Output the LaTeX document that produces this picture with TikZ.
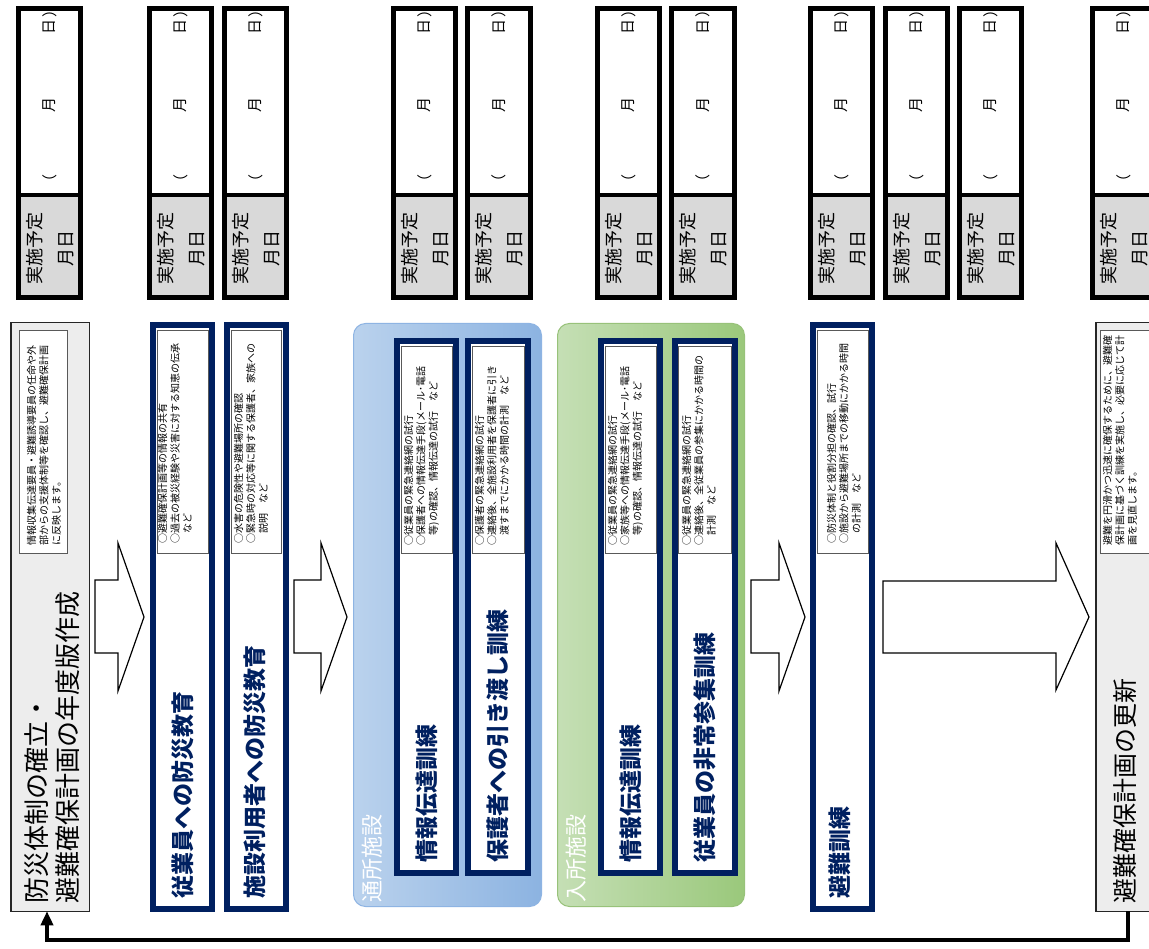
\documentclass[tikz,border=0pt]{standalone}
\usepackage{fontspec}
\newfontfamily\jp{Noto Sans CJK JP}
\usetikzlibrary{arrows.meta}
\definecolor{navy}{HTML}{002060}
\definecolor{lgrey}{HTML}{D9D9D9}
\definecolor{pgrey}{HTML}{EDEDED}
\definecolor{bluel}{HTML}{BAD2ED}
\definecolor{bluer}{HTML}{8CB3E1}
\definecolor{blueb}{HTML}{8EB4E3}
\definecolor{greenl}{HTML}{C5DFB5}
\definecolor{greenr}{HTML}{9AC87B}
\definecolor{greenb}{HTML}{98C27A}
\begin{document}
\begin{tikzpicture}[x=1pt,y=-1pt,
  rt/.style={rotate=90, inner sep=0pt, outer sep=0pt},
  ttl/.style={rt, anchor=west, text=navy, font=\jp\fontsize{23}{27}\selectfont\bfseries},
  bigttl/.style={rt, anchor=west, align=left, font=\jp\fontsize{26}{31}\selectfont},
  notetxt/.style={rt, anchor=north west, align=left, font=\jp\fontsize{10}{12.3}\selectfont},
  grplabel/.style={rt, anchor=west, text=white, font=\jp\fontsize{22}{26}\selectfont},
  datech/.style={rt, font=\jp\fontsize{15}{18}\selectfont},
  datelab/.style={rt, anchor=north west, align=left, font=\jp\fontsize{18}{31}\selectfont},
  navybox/.style={draw=navy, line width=6pt, fill=white, inner sep=0pt, outer sep=0pt},
  notebox/.style={draw=black!65, line width=0.8pt, fill=white, inner sep=0pt, outer sep=0pt},
  greybox/.style={draw=black!85, line width=1.5pt, fill=pgrey, inner sep=0pt, outer sep=0pt},
  grp/.style={line width=1pt, rounded corners=12pt, inner sep=0pt, outer sep=0pt},
  blockarrow/.style={draw=black, line width=1.2pt, fill=white, line join=miter},
  conn/.style={line width=4pt, -{Triangle[length=14pt,width=12pt]}}
]
\clip (0,0) rectangle (1149,949);
\fill[white] (0,0) rectangle (1149,949);

% date boxes
\foreach \i/\xl/\xr in {1/16/83, 2/147/214, 3/222/289, 4/391/458, 5/465/533, 6/595/662, 7/669/737, 8/808/875, 9/883/950, 10/957/1024, 11/1090/1157}{
  \fill[lgrey] (\xl+4,195) rectangle (\xr-4,296);
  \draw[line width=5pt] (\xl+2.5,8.5) rectangle (\xr-2.5,297.5);
  \draw[line width=4pt] (\xl+2.5,195) -- (\xr-2.5,195);
  \node[datech] (d\i a) at ({(\xl+\xr)/2},182) {（};
  \node[datech] (d\i m) at ({(\xl+\xr)/2},105) {月};
  \node[datech] (d\i d) at ({(\xl+\xr)/2},27) {日};
  \node[datech] (d\i b) at ({(\xl+\xr)/2},10) {）};
  \node[datelab] (d\i l) at (\xl+10,285) {実施予定\\　月日};
}

% left box
\node[greybox, minimum width=78.5, minimum height=588.5] (plan) at (50,617) {};
\node[notebox, minimum width=48, minimum height=223] (plann) at (43,441.5) {};
\node[notetxt] (plant) at (27,545) {情報収集伝達要員・避難誘導要員の任命や外\\部からの支援体制等を確認し、避難確保計画\\に反映します。};
\node[bigttl] (plantitle) at (52.5,903) {防災体制の確立・\\避難確保計画の年度版作成};

% education boxes
\node[navybox, minimum width=59, minimum height=584] (b1) at (182.5,617) {};
\node[notebox, minimum width=51, minimum height=223] (b1n) at (182.5,441.5) {};
\node[notetxt] (b1t) at (158,543) {○避難確保計画等の情報の共有\\○過去の被災経験や災害に対する知恵の伝承\\　など};
\node[ttl] (b1title) at (182.5,898) {従業員への防災教育};

\node[navybox, minimum width=59, minimum height=584] (b2) at (256.5,617) {};
\node[notebox, minimum width=50, minimum height=223] (b2n) at (256,441.5) {};
\node[notetxt] (b2t) at (234,543) {○水害の危険性や避難場所の確認\\○緊急時の対応等に関する保護者、家族への\\　説明　など};
\node[ttl] (b2title) at (255,898) {施設利用者への防災教育};

% day-care group
\node[grp, draw=blueb, left color=bluel, right color=bluer, minimum width=188, minimum height=583] (g1) at (447.5,615) {};
\node[grplabel] (g1l) at (372,902) {通所施設};
\node[navybox, minimum width=59, minimum height=532] (g1a) at (426.5,607) {};
\node[notebox, minimum width=51, minimum height=207] (g1an) at (426.5,449.5) {};
\node[notetxt] (g1at) at (404,545) {○従業員の緊急連絡網の試行\\○保護者への情報伝達手段(メール･電話\\　等)の確認、情報伝達の試行　など};
\node[ttl] (g1atitle) at (426.5,862) {情報伝達訓練};
\node[navybox, minimum width=60, minimum height=532] (g1b) at (498,607) {};
\node[notebox, minimum width=52, minimum height=207] (g1bn) at (498,449.5) {};
\node[notetxt] (g1bt) at (475,545) {○保護者の緊急連絡網の試行\\○連絡後、全施設利用者を保護者に引き\\　渡すまでにかかる時間の計測　など};
\node[ttl] (g1btitle) at (498,862) {保護者への引き渡し訓練};

% residential group
\node[grp, draw=greenb, left color=greenl, right color=greenr, minimum width=187, minimum height=583] (g2) at (651,615) {};
\node[grplabel] (g2l) at (576,902) {入所施設};
\node[navybox, minimum width=59, minimum height=532] (g2a) at (630.5,607) {};
\node[notebox, minimum width=51, minimum height=207] (g2an) at (630.5,449.5) {};
\node[notetxt] (g2at) at (608,545) {○従業員の緊急連絡網の試行\\○家族等への情報伝達手段(メール･電話\\　等)の確認、情報伝達の試行　など};
\node[ttl] (g2atitle) at (630.5,862) {情報伝達訓練};
\node[navybox, minimum width=60, minimum height=532] (g2b) at (705,607) {};
\node[notebox, minimum width=53, minimum height=207] (g2bn) at (704.5,449.5) {};
\node[notetxt] (g2bt) at (682,545) {○従業員の緊急連絡網の試行\\○連絡後、全従業員の参集にかかる時間の\\　計測　など};
\node[ttl] (g2btitle) at (705,862) {従業員の非常参集訓練};

% evacuation drill
\node[navybox, minimum width=59, minimum height=584] (ev) at (842.5,617) {};
\node[notebox, minimum width=51, minimum height=223] (evn) at (842.5,441.5) {};
\node[notetxt] (evt) at (827,543) {○防災体制と役割分担の確認、試行\\○施設から避難場所までの移動にかかる時間\\　の計測　など};
\node[ttl] (evtitle) at (840,898) {避難訓練};

% update box
\node[greybox, minimum width=78.5, minimum height=588.5] (upd) at (1135,617) {};
\node[notebox, minimum width=70, minimum height=223] (updn) at (1135,441.5) {};
\node[notetxt] (updt) at (1103,545) {避難を円滑かつ迅速に確保するために、避難確\\保計画に基づく訓練を実施し、必要に応じて計\\画を見直します。};
\node[bigttl, font=\jp\fontsize{25}{30}\selectfont] (updtitle) at (1125,903) {避難確保計画の更新};

% block arrows
\draw[blockarrow] (95,580) -- (118,580) -- (118,543) -- (144,617) -- (118,691) -- (118,653) -- (95,653) -- cycle;
\draw[blockarrow] (294,580) -- (321,580) -- (321,543) -- (347,617) -- (321,691) -- (321,653) -- (294,653) -- cycle;
\draw[blockarrow] (751,580) -- (779,580) -- (779,543) -- (805,617) -- (779,691) -- (779,653) -- (751,653) -- cycle;
\draw[blockarrow] (883,581) -- (1056,581) -- (1056,543) -- (1089,617) -- (1056,690) -- (1056,653) -- (883,653) -- cycle;

% feedback connector
\coordinate (fb) at (1128,940);
\draw[conn] (upd.south -| fb) -- (fb) -| ([xshift=-3pt]plan.south);
\end{tikzpicture}
\end{document}
